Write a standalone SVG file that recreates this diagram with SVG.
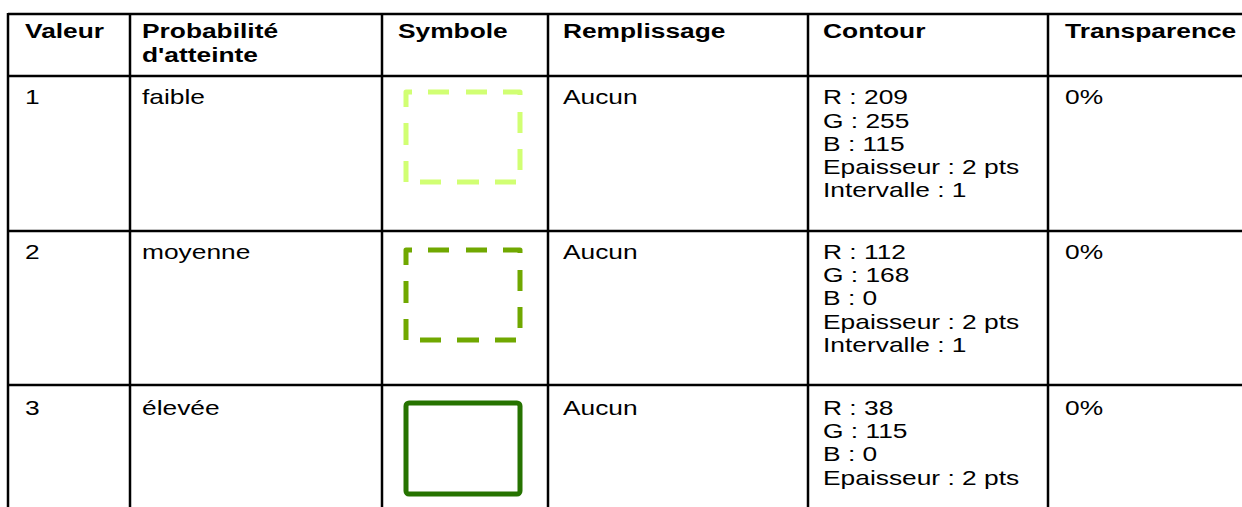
<svg xmlns="http://www.w3.org/2000/svg" xmlns:xlink="http://www.w3.org/1999/xlink" width="1242" height="507" viewBox="0 0 1242 507">
  <style>
    .t { font-family: "Liberation Sans", Arial, sans-serif; font-size: 20.5px; fill: #000; }
    .h { font-weight: bold; }
    .grid line { stroke: #000; stroke-width: 2.5; }
    .dash { fill: none; stroke-width: 5; stroke-linejoin: round; stroke-linecap: butt; }
  </style>
  <defs>
    <path id="dashbox" d="M0,15 L0,0 L6,0 M22,0 H43 M60,0 H81 M97,0 L114,0 L114,3 M114,20 V41 M114,57 V78 M14,90 H35 M51,90 H73 M89,90 H110 M0,31 V53 M0,69 V90"/>
  </defs>
  <rect width="1242" height="507" fill="#fff"/>
  <g id="grid" class="grid">
    <line x1="8" y1="14" x2="1242" y2="14"/>
    <line x1="8" y1="76" x2="1242" y2="76"/>
    <line x1="8" y1="231" x2="1242" y2="231"/>
    <line x1="8" y1="385" x2="1242" y2="385"/>
    <line x1="8" y1="13" x2="8" y2="507"/>
    <line x1="130" y1="13" x2="130" y2="507"/>
    <line x1="382" y1="13" x2="382" y2="507"/>
    <line x1="548" y1="13" x2="548" y2="507"/>
    <line x1="808" y1="13" x2="808" y2="507"/>
    <line x1="1048" y1="13" x2="1048" y2="507"/>
  </g>
  <g id="symbols">
    <use xlink:href="#dashbox" href="#dashbox" class="dash" stroke="#D1FF73" transform="translate(406,92)"/>
    <use xlink:href="#dashbox" href="#dashbox" class="dash" stroke="#70A800" transform="translate(406,250)"/>
    <rect x="406" y="403" width="114" height="91" rx="3" fill="none" stroke="#267300" stroke-width="5"/>
  </g>
  <g transform="scale(1.285 1)">
    <g id="header" class="t h">
      <text x="19.5" y="38.5">Valeur</text>
      <text x="110.5" y="38.5">Probabilité</text>
      <text x="110.5" y="62.5">d'atteinte</text>
      <text x="309.7" y="38.5">Symbole</text>
      <text x="438.1" y="38.5">Remplissage</text>
      <text x="640.5" y="38.5">Contour</text>
      <text x="828.8" y="38.5">Transparence</text>
    </g>
    <g id="row1" class="t">
      <text x="19.5" y="104.5">1</text>
      <text x="110.5" y="104.5">faible</text>
      <text x="438.1" y="104.5">Aucun</text>
      <text x="640.5" y="104.5">R : 209</text>
      <text x="640.5" y="127.7">G : 255</text>
      <text x="640.5" y="150.9">B : 115</text>
      <text x="640.5" y="174.1">Epaisseur : 2 pts</text>
      <text x="640.5" y="197.3">Intervalle : 1</text>
      <text x="828.8" y="104.5">0%</text>
    </g>
    <g id="row2" class="t">
      <text x="19.5" y="259">2</text>
      <text x="110.5" y="259">moyenne</text>
      <text x="438.1" y="259">Aucun</text>
      <text x="640.5" y="259">R : 112</text>
      <text x="640.5" y="282.2">G : 168</text>
      <text x="640.5" y="305.4">B : 0</text>
      <text x="640.5" y="328.6">Epaisseur : 2 pts</text>
      <text x="640.5" y="351.8">Intervalle : 1</text>
      <text x="828.8" y="259">0%</text>
    </g>
    <g id="row3" class="t">
      <text x="19.5" y="415">3</text>
      <text x="110.5" y="415">élevée</text>
      <text x="438.1" y="415">Aucun</text>
      <text x="640.5" y="415">R : 38</text>
      <text x="640.5" y="438.2">G : 115</text>
      <text x="640.5" y="461.4">B : 0</text>
      <text x="640.5" y="484.6">Epaisseur : 2 pts</text>
      <text x="828.8" y="415">0%</text>
    </g>
  </g>
</svg>
